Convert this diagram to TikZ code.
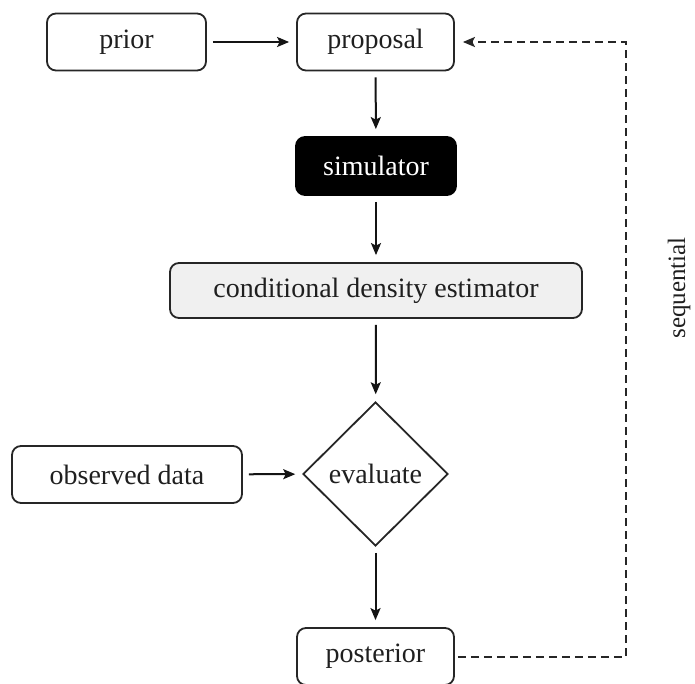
\documentclass[tikz,border=0pt]{standalone}
\usepackage{fontspec}
\setmainfont{Liberation Serif}
\usetikzlibrary{shapes.geometric,arrows.meta}
\begin{document}
\begin{tikzpicture}[x=1pt,y=-1pt,
  box/.style={draw=black!85, line width=1.8pt, rounded corners=9pt,
    minimum height=57pt, inner sep=0pt, text=black!88,
    font=\fontsize{28}{30}\selectfont},
  decision/.style={diamond, draw=black!85, line width=1.8pt, inner sep=0pt,
    minimum width=145pt, minimum height=144pt, text=black!88,
    font=\fontsize{28}{30}\selectfont},
  flow/.style={line width=2pt, draw=black!92,
    -{Stealth[length=12pt,width=10pt,inset=2.5pt]},
    shorten <=6pt, shorten >=7pt},
  loop/.style={line width=2pt, draw=black!85, dash pattern=on 8pt off 5pt,
    -{Stealth[length=12pt,width=10pt,inset=2.5pt]},
    shorten <=3pt, shorten >=8pt}]
\useasboundingbox (0,0) rectangle (695,684);

% boxes of the pipeline
\node[box, minimum width=159pt] (prior) at (126.5,42) {prior};
\node[box, minimum width=157pt] (proposal) at (375.5,42) {proposal};
\node[box, minimum width=160pt, minimum height=58pt, fill=black, draw=black,
      text=white] (simulator) at (376,166) {simulator};
\node[box, minimum width=412pt, minimum height=55pt, fill=black!6]
      (cde) at (376,290.5) {conditional density estimator};
\node[decision] (evaluate) at (375.5,474) {evaluate};
\node[box, minimum width=230pt] (observed) at (127,474.5) {observed data};
\node[box, minimum width=157pt] (posterior) at (375.5,656.5) {posterior};

% main flow
\draw[flow] (prior) -- (proposal);
\draw[flow] (proposal) -- (simulator);
\draw[flow] (simulator) -- (cde);
\draw[flow] (cde) -- (evaluate);
\draw[flow] (observed) -- (evaluate);
\draw[flow] (evaluate) -- (posterior);

% sequential feedback loop
\coordinate (turnB) at (626,656.5);
\coordinate (turnT) at (626,42);
\draw[loop] (posterior.east) -- (turnB) -- (turnT) -- (proposal.east);
\node[rotate=90, text=black!88, font=\fontsize{25}{28}\selectfont]
      (seq) at (679,288) {sequential};
\end{tikzpicture}
\end{document}
